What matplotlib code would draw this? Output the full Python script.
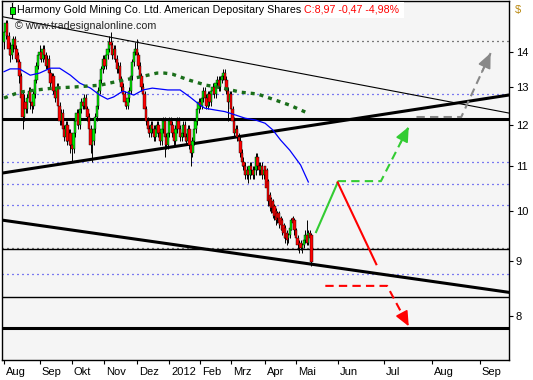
import matplotlib
matplotlib.use("Agg")
import matplotlib.pyplot as plt
import numpy as np
import pandas as pd
from matplotlib.lines import Line2D
from matplotlib.patches import Rectangle
from matplotlib.ticker import FuncFormatter, NullLocator
from matplotlib.transforms import ScaledTranslation

plt.rcParams["font.family"] = ["Liberation Sans", "DejaVu Sans"]

# ---- daily candles, Aug 2011 .. 15 May 2012 (one list per month) ----
opens_by_month = [
    [14.3, 14.6, 14.9, 14.5, 14.1, 13.9, 14.2, 14.4, 14.1, 13.9, 13.7, 13.3, 12.8, 12.2, 12.6, 12.4, 12.7, 12.9, 12.6, 12.5, 12.8, 13.2, 13.6],
    [13.9, 14.0, 13.8, 14.1, 13.9, 13.6, 13.8, 13.4, 13.1, 13.3, 12.9, 12.7, 13.0, 12.5, 12.1, 12.3, 11.9, 11.7, 12.0, 11.6, 11.8],
    [11.5, 11.4, 11.8, 12.1, 12.3, 12.0, 12.4, 12.6, 12.5, 12.7, 12.4, 12.2, 11.9, 11.5, 11.6, 11.9, 12.2, 12.5, 12.9, 13.2, 13.5],
    [13.8, 13.6, 13.9, 14.1, 14.3, 14.2, 13.9, 14.1, 13.8, 13.5, 13.6, 13.2, 13.0, 12.8, 12.6, 12.5, 12.7, 12.9, 13.3, 13.7, 14.0],
    [14.1, 13.9, 13.6, 13.3, 13.0, 12.8, 12.4, 12.1, 11.9, 11.8, 12.0, 11.9, 11.7, 11.9, 12.0, 11.8, 11.6, 11.9, 12.1, 11.7, 11.5],
    [11.8, 12.1, 12.0, 11.8, 11.6, 11.9, 12.1, 11.9, 11.7, 11.8, 12.0, 11.7, 11.6, 11.9, 11.5, 11.3, 11.6, 11.9, 12.1, 12.4],
    [12.6, 12.5, 12.7, 12.9, 12.7, 12.5, 12.8, 12.6, 12.9, 13.0, 12.8, 13.1, 13.2, 13.0, 13.2, 13.3, 13.4, 13.2, 12.9, 12.6],
    [12.8, 12.4, 12.1, 11.8, 11.9, 11.7, 11.6, 11.3, 11.1, 11.0, 10.8, 10.9, 10.8, 11.0, 10.9, 10.8, 10.9, 11.2, 11.0, 10.9, 11.0, 10.8],
    [11.0, 10.9, 10.65, 10.35, 10.25, 10.2, 10.1, 10.0, 9.95, 9.95, 9.85, 9.8, 9.7, 9.65, 9.55, 9.45, 9.5, 9.6, 9.85, 9.8],
    [9.6, 9.45, 9.3, 9.35, 9.25, 9.3, 9.4, 9.5, 9.35, 9.55, 9.5],
]
highs_by_month = [
    [14.8, 15.0, 15.0, 14.6, 14.3, 14.3, 14.5, 14.5, 14.2, 14.0, 13.8, 13.4, 12.9, 12.8, 12.7, 12.8, 13.0, 13.0, 12.7, 12.9, 13.3, 13.7, 14.0],
    [14.2, 14.1, 14.2, 14.2, 14.0, 13.9, 13.9, 13.5, 13.4, 13.4, 13.0, 13.1, 13.1, 12.6, 12.4, 12.4, 12.0, 12.1, 12.1, 11.9, 11.9],
    [11.7, 11.9, 12.2, 12.4, 12.4, 12.5, 12.7, 12.7, 12.8, 12.8, 12.5, 12.3, 12.0, 11.7, 12.0, 12.3, 12.6, 13.0, 13.3, 13.6, 13.9],
    [13.9, 14.0, 14.2, 14.5, 14.6, 14.3, 14.2, 14.2, 13.9, 13.7, 13.7, 13.3, 13.1, 12.9, 12.7, 12.8, 13.0, 13.4, 13.8, 14.1, 14.3],
    [14.4, 14.0, 13.7, 13.4, 13.1, 12.9, 12.5, 12.2, 12.0, 12.1, 12.1, 12.0, 12.0, 12.1, 12.1, 11.9, 12.0, 12.2, 12.2, 11.8, 11.9],
    [12.2, 12.2, 12.1, 11.9, 12.0, 12.2, 12.2, 12.0, 11.9, 12.1, 12.1, 11.8, 12.0, 12.0, 11.6, 11.7, 12.0, 12.2, 12.5, 12.7],
    [12.7, 12.8, 13.0, 13.0, 12.8, 12.9, 12.9, 13.0, 13.1, 13.1, 13.2, 13.3, 13.3, 13.3, 13.4, 13.5, 13.5, 13.3, 13.0, 12.9],
    [12.9, 12.5, 12.2, 12.0, 12.0, 11.8, 11.7, 11.4, 11.2, 11.1, 11.0, 11.0, 11.1, 11.1, 11.0, 11.0, 11.3, 11.3, 11.1, 11.1, 11.1, 11.0],
    [11.0, 10.95, 10.7, 10.4, 10.3, 10.25, 10.15, 10.05, 10.0, 10.0, 9.9, 9.85, 9.75, 9.7, 9.6, 9.55, 9.7, 9.85, 9.9, 9.85],
    [9.65, 9.5, 9.4, 9.4, 9.35, 9.45, 9.6, 9.8, 9.6, 9.6, 9.55],
]
lows_by_month = [
    [14.1, 14.4, 14.3, 13.9, 13.7, 13.8, 14.0, 14.0, 13.7, 13.5, 13.1, 12.5, 11.9, 12.1, 12.3, 12.3, 12.6, 12.4, 12.3, 12.4, 12.7, 13.1, 13.5],
    [13.8, 13.7, 13.7, 13.8, 13.5, 13.5, 13.3, 13.0, 13.0, 12.8, 12.6, 12.6, 12.4, 12.0, 12.0, 11.8, 11.6, 11.6, 11.5, 11.5, 11.3],
    [11.1, 11.3, 11.7, 12.0, 11.9, 11.9, 12.3, 12.4, 12.4, 12.3, 12.1, 11.8, 11.3, 11.1, 11.5, 11.8, 12.1, 12.4, 12.8, 13.1, 13.4],
    [13.5, 13.5, 13.8, 14.0, 14.0, 13.8, 13.8, 13.7, 13.4, 13.4, 13.1, 12.9, 12.7, 12.5, 12.4, 12.4, 12.6, 12.8, 13.2, 13.6, 13.9],
    [13.8, 13.5, 13.2, 12.9, 12.7, 12.3, 12.0, 11.8, 11.7, 11.7, 11.8, 11.6, 11.6, 11.8, 11.7, 11.5, 11.5, 11.8, 11.2, 11.4, 11.4],
    [11.7, 11.9, 11.7, 11.5, 11.5, 11.8, 11.8, 11.6, 11.6, 11.7, 11.6, 11.5, 11.5, 11.4, 11.0, 11.2, 11.5, 11.8, 12.0, 12.3],
    [12.4, 12.4, 12.6, 12.6, 12.4, 12.4, 12.5, 12.5, 12.8, 12.7, 12.7, 13.0, 12.9, 12.9, 13.1, 13.2, 13.1, 12.8, 12.1, 12.5],
    [12.3, 11.9, 11.7, 11.7, 11.6, 11.5, 11.2, 11.0, 10.9, 10.7, 10.7, 10.6, 10.7, 10.8, 10.7, 10.7, 10.8, 10.9, 10.8, 10.8, 10.7, 10.7],
    [10.7, 10.4, 10.1, 10.0, 9.95, 9.85, 9.8, 9.7, 9.75, 9.65, 9.6, 9.5, 9.45, 9.35, 9.3, 9.35, 9.45, 9.6, 9.65, 9.5],
    [9.35, 9.2, 9.15, 9.2, 9.15, 9.25, 9.35, 9.3, 9.3, 9.35, 8.9],
]
closes_by_month = [
    [14.6, 14.9, 14.5, 14.1, 13.9, 14.2, 14.4, 14.1, 13.8, 13.7, 13.3, 12.7, 12.2, 12.6, 12.4, 12.7, 12.9, 12.6, 12.5, 12.8, 13.2, 13.6, 13.9],
    [14.0, 13.8, 14.1, 13.9, 13.6, 13.8, 13.4, 13.1, 13.3, 12.9, 12.7, 13.0, 12.5, 12.1, 12.3, 11.9, 11.7, 12.0, 11.6, 11.8, 11.5],
    [11.4, 11.8, 12.1, 12.3, 12.0, 12.4, 12.6, 12.5, 12.7, 12.4, 12.2, 11.9, 11.5, 11.6, 11.9, 12.2, 12.5, 12.9, 13.2, 13.5, 13.8],
    [13.6, 13.9, 14.1, 14.3, 14.2, 13.9, 14.1, 13.8, 13.5, 13.6, 13.2, 13.0, 12.8, 12.6, 12.5, 12.7, 12.9, 13.3, 13.7, 14.0, 14.1],
    [13.9, 13.6, 13.3, 13.0, 12.8, 12.4, 12.1, 11.9, 11.8, 12.0, 11.9, 11.7, 11.9, 12.0, 11.8, 11.6, 11.9, 12.1, 11.7, 11.5, 11.8],
    [12.1, 12.0, 11.8, 11.6, 11.9, 12.1, 11.9, 11.7, 11.8, 12.0, 11.7, 11.6, 11.9, 11.5, 11.3, 11.6, 11.9, 12.1, 12.4, 12.6],
    [12.5, 12.7, 12.9, 12.7, 12.5, 12.8, 12.6, 12.9, 13.0, 12.8, 13.1, 13.2, 13.0, 13.2, 13.3, 13.4, 13.2, 12.9, 12.6, 12.8],
    [12.4, 12.1, 11.8, 11.9, 11.7, 11.6, 11.3, 11.1, 11.0, 10.8, 10.9, 10.8, 11.0, 10.9, 10.8, 10.9, 11.2, 11.0, 10.9, 11.0, 10.8, 10.9],
    [10.8, 10.5, 10.2, 10.1, 10.05, 9.95, 9.9, 9.8, 9.85, 9.75, 9.7, 9.6, 9.55, 9.45, 9.4, 9.5, 9.65, 9.8, 9.75, 9.6],
    [9.45, 9.3, 9.35, 9.25, 9.3, 9.4, 9.5, 9.35, 9.55, 9.44, 8.97],
]

market_holidays = ["2011-09-05", "2011-11-24", "2011-12-26", "2012-01-02",
                   "2012-01-16", "2012-02-20", "2012-04-06"]

# moving averages (bar index, value)
ma_blue_idx = [0, 4, 10, 17, 23, 30, 36, 43, 49, 56, 62, 67, 71, 77, 84, 90, 96,
               106, 114, 120, 127, 130, 137, 143, 150, 156, 163, 169, 174, 179, 185, 192, 197]
ma_blue_val = [13.43, 13.51, 13.51, 13.33, 13.39, 13.53, 13.53, 13.33, 13.11, 12.97, 12.78,
               12.67, 12.73, 12.89, 12.78, 12.92, 12.97, 12.92, 12.92, 12.74, 12.51, 12.43,
               12.38, 12.34, 12.25, 12.17, 12.12, 12.04, 11.87, 11.62, 11.37, 11.02, 10.63]
ma_green_idx = [0, 10, 21, 32, 45, 62, 77, 88, 99, 104, 109, 120, 131, 142, 153, 164, 174, 185, 195]
ma_green_val = [12.70, 12.86, 12.92, 12.97, 13.00, 13.05, 13.19, 13.28, 13.39, 13.39, 13.36,
                13.19, 13.05, 12.97, 12.86, 12.81, 12.67, 12.51, 12.33]

# horizontal levels
levels_black_dotted = [14.33, 9.24]
levels_blue_dotted = [12.81, 11.08, 10.58, 10.12, 8.74]
levels_black_thick = [12.14, 7.80]
levels_black_thin = [9.22, 8.34]

# trend lines (two anchors each)
trend_dates = ["2011-08-01", "2012-08-24"]
trend_thin = [15.08, 12.51]
trend_up = [10.84, 12.61]
trend_down = [9.80, 8.52]

# scenario paths
green_solid_dates = ["2012-05-18", "2012-06-01"]
green_solid_vals = [9.56, 10.62]
green_dash_dates = ["2012-06-01", "2012-06-29", "2012-07-17"]
green_dash_vals = [10.65, 10.65, 11.95]
red_solid_dates = ["2012-06-01", "2012-06-26"]
red_solid_vals = [10.62, 8.93]
red_dash_dates = ["2012-05-24", "2012-07-03", "2012-07-17"]
red_dash_vals = [8.53, 8.53, 7.83]
grey_dash_dates = ["2012-07-22", "2012-08-20", "2012-09-08"]
grey_dash_vals = [12.20, 12.20, 13.97]

month_starts = ["2011-08-01", "2011-09-01", "2011-10-01", "2011-11-01", "2011-12-01",
                "2012-01-01", "2012-02-01", "2012-03-01", "2012-04-01", "2012-05-01",
                "2012-06-01", "2012-07-01", "2012-08-01", "2012-09-01"]
month_labels = ["Aug", "Sep", "Okt", "Nov", "Dez", "2012", "Feb", "Mrz", "Apr", "Mai",
                "Jun", "Jul", "Aug", "Sep"]
price_ticks = [8, 9, 10, 11, 12, 13, 14]

GREEN = "#00ee00"
RED = "#ff0000"

# ---- slot axis: trading days in history, calendar days in projection ----
hist = pd.bdate_range("2011-08-01", "2012-05-15")
hist = hist[~hist.isin(pd.to_datetime(market_holidays))]
slots = hist.append(pd.date_range("2012-05-16", "2012-09-30"))


def slot(d):
    return slots.searchsorted(pd.Timestamp(d))


def slot_list(ds):
    return [slot(d) for d in ds]


opens = np.concatenate(opens_by_month)
highs = np.concatenate(highs_by_month)
lows = np.concatenate(lows_by_month)
closes = np.concatenate(closes_by_month)
xs = np.arange(len(closes))

fig = plt.figure(figsize=(5.33, 3.80), dpi=100)
ax = fig.add_axes([2 / 533, 20 / 380, 507 / 533, 359 / 380])
ax.set_facecolor("#f5f5f5")
ax.set_yscale("log")
ax.set_ylim(7.29, 15.60)
ax.set_xlim(-1.3, 326.9)

dot = (0, (0.8, 3.2))
for v in levels_black_dotted:
    ax.axhline(v, color="black", lw=0.9, ls=dot, zorder=1)
for v in levels_blue_dotted:
    ax.axhline(v, color="#0000ee", lw=0.9, ls=dot, zorder=1)
for v in levels_black_thin:
    ax.axhline(v, color="black", lw=1.0, zorder=1)
for v in levels_black_thick:
    ax.axhline(v, color="black", lw=2.2, zorder=1)

tx = slot_list(trend_dates)
ax.axline((tx[0], trend_thin[0]), (tx[1], trend_thin[1]), color="black", lw=0.8, zorder=2)
ax.axline((tx[0], trend_up[0]), (tx[1], trend_up[1]), color="black", lw=2.2, zorder=2)
ax.axline((tx[0], trend_down[0]), (tx[1], trend_down[1]), color="black", lw=2.2, zorder=2)

# candles
up = closes >= opens
ax.vlines(xs, lows, highs, color="black", lw=0.7, zorder=3)
ax.bar(xs[up], (closes - opens)[up], bottom=opens[up], width=1.5,
       color=GREEN, edgecolor="black", lw=0.3, zorder=4)
ax.bar(xs[~up], (opens - closes)[~up], bottom=closes[~up], width=1.5,
       color=RED, edgecolor="black", lw=0.3, zorder=4)

ax.plot(ma_blue_idx, ma_blue_val, color="#0000ff", lw=0.9, zorder=5)
ax.plot(ma_green_idx, ma_green_val, color="#1a6e1a", lw=2.4,
        ls=(0, (1.2, 1.5)), zorder=5)


def scenario(dates, vals, color, dashed, arrow):
    px = slot_list(dates)
    ls = (0, (4, 2.5)) if dashed else "-"
    ax.plot(px, vals, color=color, lw=1.5, ls=ls, zorder=6)
    if arrow:
        # arrow head along the last segment (straight on a log axis)
        t = 0.7
        bx = px[-2] + t * (px[-1] - px[-2])
        by = np.exp(np.log(vals[-2]) + t * (np.log(vals[-1]) - np.log(vals[-2])))
        ax.annotate("", xy=(px[-1], vals[-1]), xytext=(bx, by), zorder=7,
                    arrowprops=dict(arrowstyle="-|>,head_length=0.9,head_width=0.4",
                                    color=color, lw=1.2, mutation_scale=10,
                                    shrinkA=0, shrinkB=0))


scenario(green_solid_dates, green_solid_vals, "#33cc33", False, False)
scenario(green_dash_dates, green_dash_vals, "#33cc33", True, True)
scenario(red_solid_dates, red_solid_vals, RED, False, False)
scenario(red_dash_dates, red_dash_vals, RED, True, True)
scenario(grey_dash_dates, grey_dash_vals, "#888888", True, True)

# axes, ticks
ax.yaxis.tick_right()
ax.set_yticks(price_ticks)
ax.yaxis.set_major_formatter(FuncFormatter(lambda v, _: f"{v:g}"))
ax.yaxis.set_minor_locator(NullLocator())
ax.tick_params(axis="y", length=3, pad=2, labelsize=8, width=0.8)
ax.set_xticks(slot_list(month_starts))
ax.set_xticklabels(month_labels, ha="left")
ax.tick_params(axis="x", length=3, pad=2, labelsize=8, width=0.8)
shift = ScaledTranslation(2 / 100, 0, fig.dpi_scale_trans)
for lab in ax.get_xticklabels():
    lab.set_transform(lab.get_transform() + shift)
for sp in ax.spines.values():
    sp.set_linewidth(1.0)

# header
fig.patches.append(Rectangle((14 / 533, 1 - 18 / 380), 390 / 533, 16 / 380,
                             transform=fig.transFigure, facecolor="white",
                             edgecolor="none", zorder=10))
fig.add_artist(Line2D([12 / 533, 12 / 533], [1 - 3 / 380, 1 - 18 / 380],
                      color="black", lw=0.8, zorder=11))
fig.patches.append(Rectangle((9.5 / 533, 1 - 13.5 / 380), 5 / 533, 6 / 380,
                             transform=fig.transFigure, facecolor=GREEN,
                             edgecolor="black", lw=0.6, zorder=12))
head = fig.text(17 / 533, 1 - 10 / 380,
                "Harmony Gold Mining Co. Ltd. American Depositary Shares ",
                fontsize=7.7, va="center", ha="left", zorder=13)
fig.canvas.draw()
bb = head.get_window_extent()
fig.text(bb.x1 / fig.bbox.width, 1 - 10 / 380, "C:8,97 -0,47 -4,98%", color=RED,
         fontsize=7.7, va="center", ha="left", zorder=13)
fig.text(15 / 533, 1 - 26 / 380, "\u00a9 www.tradesignalonline.com", color="#222222",
         fontsize=7.7, va="center", ha="left", zorder=13)
fig.text(515 / 533, 1 - 10 / 380, "$", color="#b8860b", fontsize=8, va="center", ha="left")

fig.savefig("out.png", dpi=100)
